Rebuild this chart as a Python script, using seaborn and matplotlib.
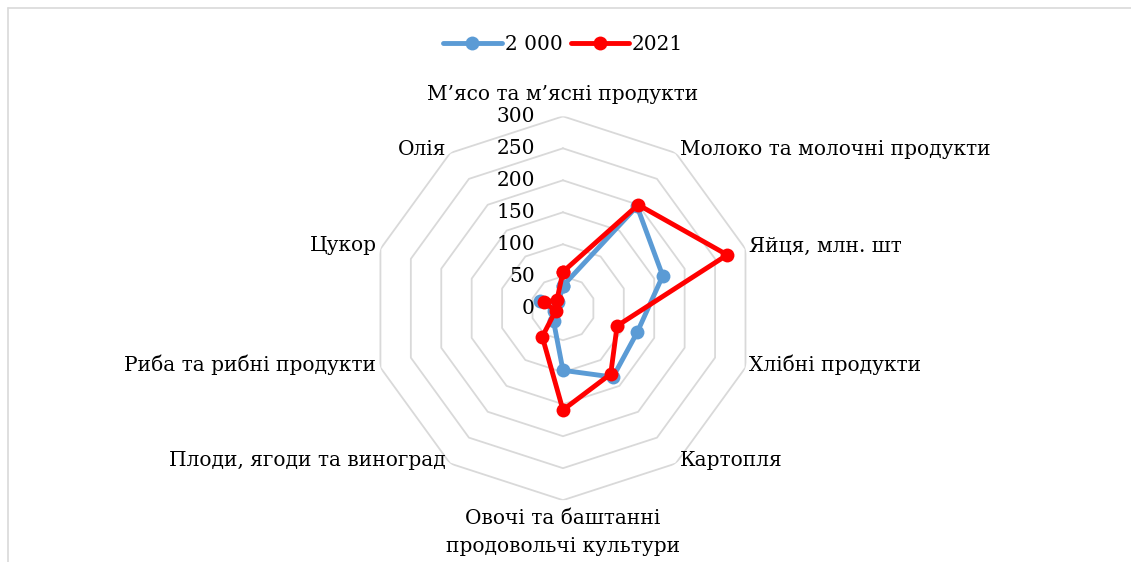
import numpy as np
import pandas as pd
import seaborn as sb
import matplotlib.pyplot as plt
from matplotlib.lines import Line2D
from matplotlib.transforms import ScaledTranslation

categories = ["М’ясо та м’ясні продукти", "Молоко та молочні продукти", "Яйця, млн. шт",
              "Хлібні продукти", "Картопля", "Овочі та баштанні\nпродовольчі культури",
              "Плоди, ягоди та виноград", "Риба та рибні продукти", "Цукор", "Олія"]
years = ["2 000", "2021"]
values_2000 = [35, 197, 164, 122, 133, 97, 25, 14, 38, 12]
values_2021 = [57, 200, 270, 89, 127, 159, 55, 12, 31, 16]
r_ticks = [0, 50, 100, 150, 200, 250, 300]
colors = ["#5b9bd5", "#ff0000"]

sb.set_style("white")
plt.rcParams['font.family'] = ['DejaVu Serif']
plt.rcParams['text.color'] = 'black'
fs = 14.5

n = len(categories)
theta = np.linspace(0, 2 * np.pi, n, endpoint=False)
theta_closed = np.append(theta, 2 * np.pi)

rows = []
for year, vals in zip(years, [values_2000, values_2021]):
    for t, v in zip(theta_closed, vals + vals[:1]):
        rows.append({"theta": t, "value": v, "year": year})
df = pd.DataFrame(rows)

fig = plt.figure(figsize=(11.31, 5.62), dpi=100)
ax = fig.add_axes([0.328, 0.110, 0.3395, 0.683], projection="polar")
ax.set_theta_zero_location("N")
ax.set_theta_direction(-1)

# polygon grid
for r in r_ticks[1:]:
    ax.plot(theta_closed, [r] * (n + 1), color="#d9d9d9", lw=1.3, zorder=1)

sb.lineplot(data=df, x="theta", y="value", hue="year", palette=colors,
            marker="o", markersize=10, markeredgewidth=0, lw=3.5,
            sort=False, legend=False, ax=ax, zorder=3)

ax.set_ylim(0, 300)
ax.grid(False)
ax.spines["polar"].set_visible(False)
ax.set_xticks([])
ax.set_yticks([])
ax.set_xlabel("")
ax.set_ylabel("")

# radial tick labels
off = ax.transData + ScaledTranslation(-0.28, 0, fig.dpi_scale_trans)
for r in r_ticks:
    ax.text(0, r, str(r), transform=off, ha="right", va="center", fontsize=fs)

# category labels
for t, lab in zip(theta, categories):
    s = np.sin(t)
    if abs(s) < 1e-6:
        if np.cos(t) > 0:
            tr = ax.transData + ScaledTranslation(0, 0.12, fig.dpi_scale_trans)
            ax.text(t, 300, lab, transform=tr, ha="center", va="bottom", fontsize=fs)
        else:
            tr = ax.transData + ScaledTranslation(0, -0.09, fig.dpi_scale_trans)
            ax.text(t, 300, lab, transform=tr, ha="center", va="top", fontsize=fs,
                    linespacing=1.6)
    elif s > 0:
        tr = ax.transData + ScaledTranslation(0.04, 0.03, fig.dpi_scale_trans)
        ax.text(t, 300, lab, transform=tr, ha="left", va="center", fontsize=fs)
    else:
        tr = ax.transData + ScaledTranslation(-0.04, 0.03, fig.dpi_scale_trans)
        ax.text(t, 300, lab, transform=tr, ha="right", va="center", fontsize=fs)

handles = [Line2D([], [], color=c, lw=3.5, marker="o", markersize=10,
                  markeredgewidth=0) for c in colors]
fig.legend(handles, years, loc="center", bbox_to_anchor=(0.498, 0.92), ncol=2,
           frameon=False, fontsize=fs, handlelength=2.9, handletextpad=0.15,
           columnspacing=0.4)

# chart border
fig.add_artist(Line2D([0.007, 0.007], [0, 0.986], color="#d9d9d9", lw=1.2))
fig.add_artist(Line2D([0.007, 1.0], [0.986, 0.986], color="#d9d9d9", lw=1.2))

fig.savefig("out.png", dpi=100, facecolor="white")
